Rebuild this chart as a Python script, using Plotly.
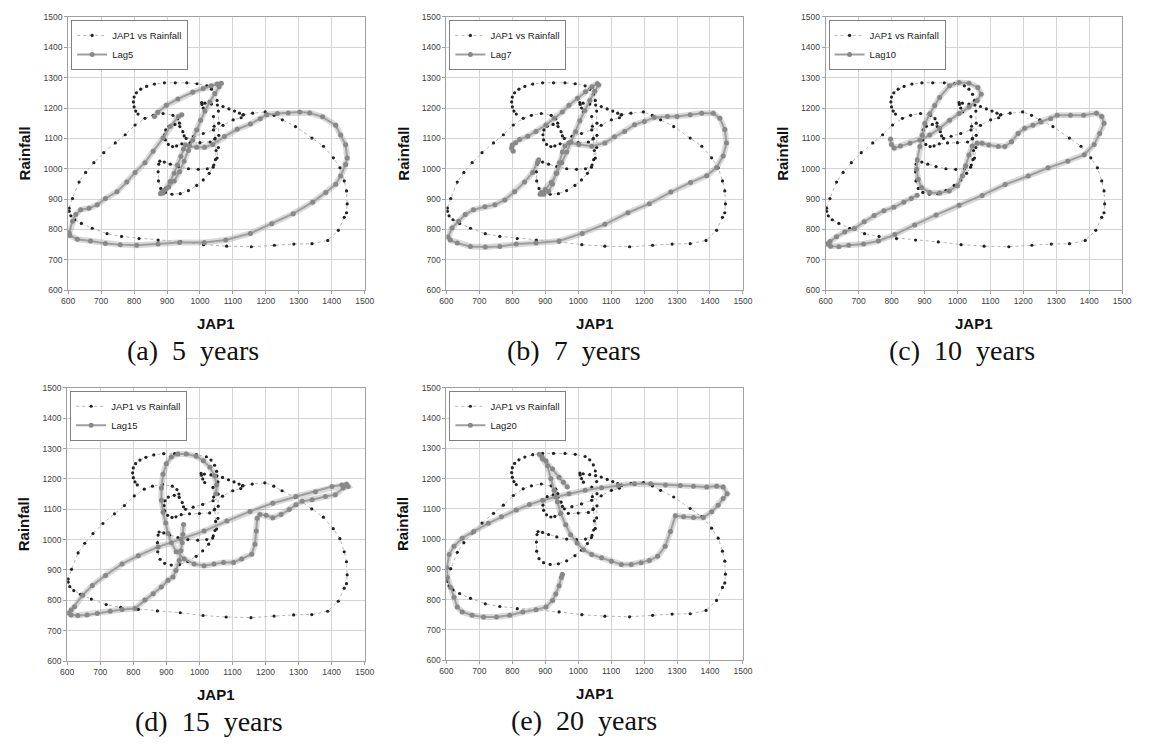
import plotly.graph_objects as go

# ---------------- data ----------------
# JAP1 vs Rainfall (pieces separated by None)
jap_x = [1016, 1010, 1006, 1005, 1015, 1035, 1053, 1070, 1088, 1105, 1120, 1130, 1160, 1198, 1225, 1250, 1290, 1340,
         1375, 1405, 1425, 1438, 1445, 1447, 1445, 1438, 1420, 1388, 1340, 1285, 1226, 1156, 1081, 1011, 942, 873,
         815, 762, 718, 673, 640, 620, 608, 603, 603, 613, 633, 653, 678, 708, 743, 773, 803, 833, 858, 888, 918,
         932, 938,
         None,
         1132, 1125, 1101, 1070, 1041, 1010, 981, 958,
         None,
         1041, 1043, 1046, 1049, 1047, 1040, 1028, 1010, 990, 965, 940, 915, 895, 881, 874, 873, 875, 878, 892, 910,
         935, 965, 995, 1022, 1042, 1052, 1056, 1057, 1057, 1056, 1052, 1046, 1035, 1021, 991, 960, 925, 892, 862,
         838, 820, 807, 800, 798, 800, 805, 812,
         None,
         1045, 1031, 1000, 970, 945, 929, 917, 904, 895, 893, 896, 906, 924, 939, 948, 952]
jap_y = [1188, 1200, 1212, 1218, 1216, 1213, 1210, 1205, 1197, 1190, 1183, 1177, 1183, 1187, 1176, 1161, 1139, 1101,
         1074, 1036, 1003, 960, 927, 884, 855, 840, 797, 764, 753, 752, 748, 743, 745, 750, 759, 765,
         770, 777, 786, 804, 820, 832, 845, 860, 870, 902, 956, 988, 1020, 1053, 1085, 1112, 1144, 1166, 1176, 1182,
         1176, 1165, 1150,
         None,
         1178, 1168, 1161, 1143, 1128, 1116, 1107, 1100,
         None,
         1172, 1140, 1100, 1060, 1030, 1005, 985, 963, 945, 928, 918, 916, 922, 935, 960, 990, 1015, 1025, 1022, 1015,
         1007, 1000, 998, 1000, 1012, 1035, 1070, 1110, 1150, 1190, 1225, 1245, 1262, 1273, 1280, 1283, 1283, 1283,
         1279, 1271, 1262, 1250, 1236, 1220, 1204, 1190, 1180,
         None,
         1098, 1088, 1086, 1085, 1082, 1075, 1073, 1080, 1095, 1112, 1128, 1140, 1146, 1139, 1122, 1108]

lag5_x = [862, 872, 898, 933, 978, 1010, 1034, 1052, 1065, 1058, 1045, 1030, 1015, 1002, 990, 978, 965, 952, 938, 922,
          905, 890, 883, 880, 888, 898, 910, 922, 932, 942, 950, 956, 968, 990, 1014, 1039, 1074, 1113, 1153, 1183,
          1203, 1235, 1268, 1303, 1333, 1372, 1412, 1427, 1442, 1447, 1442, 1427, 1412, 1382, 1342, 1283, 1218, 1153,
          1078, 1013, 938, 873, 808, 758, 713, 668, 628, 605, 603, 613, 623, 638, 663, 688, 713, 748, 778, 803, 833,
          858, 888, 910, 935, 945]
lag5_y = [1172, 1186, 1209, 1230, 1252, 1264, 1273, 1279, 1282, 1270, 1248, 1220, 1190, 1160, 1128, 1095, 1060, 1025,
          990, 960, 940, 928, 922, 918, 920, 935, 958, 985, 1012, 1040, 1065, 1078, 1075, 1071, 1071, 1080, 1106, 1130,
          1147, 1165, 1178, 1182, 1184, 1187, 1184, 1171, 1143, 1111, 1079, 1035, 1014, 976, 949, 922, 890, 852, 819,
          787, 765, 757, 757, 752, 748, 750, 754, 762, 768, 780, 789, 827, 849, 865, 870, 881, 902, 924, 956, 988,
          1020, 1058, 1101, 1140, 1172, 1178]

lag7_x = [803, 798, 800, 810, 822, 847, 872, 902, 927, 952, 972, 998, 1022, 1042, 1058, 1062, 1050, 1035, 1020, 1005,
          992, 978, 965, 950, 935, 918, 900, 888, 884, 895, 910, 922, 933, 943, 952, 960, 972, 1002, 1041, 1081, 1110,
          1141, 1171, 1201, 1231, 1271, 1300, 1340, 1375, 1410, 1430, 1445, 1450, 1440, 1420, 1390, 1341, 1281, 1216,
          1151, 1081, 1012, 942, 872, 812, 762, 718, 673, 633, 612, 605, 617, 637, 657, 682, 717, 747, 777, 807, 837,
          862, 877, 880]
lag7_y = [1058, 1068, 1078, 1086, 1096, 1107, 1123, 1144, 1166, 1187, 1209, 1232, 1254, 1270, 1280, 1276, 1255, 1225,
          1192, 1158, 1122, 1088, 1055, 1020, 985, 955, 932, 922, 916, 916, 925, 950, 985, 1020, 1055, 1075, 1085,
          1080, 1074, 1085, 1105, 1123, 1145, 1156, 1169, 1172, 1172, 1178, 1183, 1183, 1166, 1129, 1085, 1042, 1004,
          977, 955, 923, 885, 855, 817, 787, 762, 755, 752, 744, 742, 744, 755, 765, 775, 805, 827, 849, 865, 875, 881,
          897, 924, 956, 988, 1021, 1030]

lag10_x = [797, 800, 808, 827, 856, 886, 916, 946, 976, 1005, 1035, 1060, 1072, 1062, 1035, 1005, 976, 946, 931, 916,
           901, 893, 886, 878, 876, 881, 891, 916, 946, 975, 1000, 1015, 1025, 1035, 1045, 1060, 1075, 1095, 1124,
           1144, 1164, 1184, 1204, 1229, 1254, 1283, 1303, 1343, 1383, 1422, 1438, 1445, 1432, 1415, 1385, 1335, 1275,
           1215, 1145, 1075, 1005, 935, 870, 810, 760, 715, 670, 640, 615, 605, 613, 633, 658, 687, 717, 747, 777,
           807, 837, 860, 878]
lag10_y = [1098, 1080, 1068, 1075, 1084, 1095, 1111, 1133, 1160, 1182, 1203, 1225, 1245, 1268, 1282, 1284, 1273, 1235,
           1208, 1181, 1149, 1110, 1073, 1030, 998, 965, 938, 922, 920, 927, 944, 976, 1010, 1045, 1075, 1084, 1084,
           1078, 1073, 1073, 1089, 1116, 1133, 1143, 1154, 1165, 1176, 1176, 1176, 1183, 1172, 1150, 1116, 1080, 1046,
           1025, 1003, 976, 948, 912, 880, 848, 815, 783, 762, 752, 748, 743, 745, 752, 760, 776, 792, 803, 825, 846,
           862, 873, 890, 902, 913]

lag15_x = [952, 950, 948, 944, 939, 929, 920, 905, 885, 860, 835, 805, 766, 730, 691, 660, 632, 612, 605, 612, 622,
           647, 676, 716, 766, 815, 875, 944, 1014, 1083, 1153, 1222, 1292, 1351, 1401, 1431, 1445, 1450, 1435, 1411,
           1381, 1341, 1311, 1292, 1272, 1247, 1222, 1202, 1183, 1175, 1172, 1168, 1158, 1128, 1103, 1073, 1044, 1014,
           984, 954, 930, 915, 905, 898, 890, 885, 885, 890, 900, 915, 935, 960, 990, 1012, 1032, 1046, 1052, 1050]
lag15_y = [1050, 1017, 990, 963, 931, 898, 877, 866, 844, 822, 801, 773, 770, 764, 757, 752, 750, 752, 758, 768, 779,
           817, 849, 882, 920, 947, 976, 1001, 1028, 1061, 1093, 1120, 1142, 1158, 1175, 1180, 1182, 1175, 1170, 1148,
           1142, 1131, 1126, 1115, 1099, 1083, 1072, 1080, 1083, 1070, 1028, 985, 952, 936, 925, 925, 920, 914, 920,
           936, 960, 990, 1020, 1055, 1090, 1130, 1170, 1215, 1250, 1272, 1282, 1282, 1275, 1260, 1238, 1210, 1180,
           1150]

lag20_x = [967, 955, 942, 922, 902, 890, 882, 892, 907, 917, 927, 937, 947, 962, 977, 997, 1016, 1041, 1071, 1101,
           1131, 1161, 1191, 1216, 1241, 1264, 1280, 1295, 1320, 1350, 1380, 1405, 1425, 1440, 1452, 1440, 1420, 1390,
           1350, 1310, 1265, 1220, 1171, 1121, 1071, 1021, 972, 932, 892, 852, 812, 767, 727, 683, 648, 623, 608, 601,
           603, 613, 623, 633, 648, 678, 713, 752, 792, 832, 872, 902, 922, 932, 942, 949, 952]
lag20_y = [1172, 1188, 1204, 1232, 1259, 1272, 1280, 1265, 1242, 1199, 1161, 1123, 1085, 1047, 1014, 987, 965, 949,
           938, 927, 916, 916, 922, 929, 943, 976, 1025, 1077, 1074, 1071, 1071, 1090, 1112, 1134, 1150, 1172, 1175,
           1172, 1175, 1177, 1179, 1183, 1183, 1177, 1170, 1161, 1150, 1139, 1128, 1114, 1096, 1074, 1052, 1025,
           1003, 976, 949, 905, 873, 840, 808, 775, 759, 748, 742, 742, 748, 759, 766, 775, 797, 818, 846, 873, 884]

lag_names = ["Lag5", "Lag7", "Lag10", "Lag15", "Lag20"]
lag_xs = [lag5_x, lag7_x, lag10_x, lag15_x, lag20_x]
lag_ys = [lag5_y, lag7_y, lag10_y, lag15_y, lag20_y]
captions = ["(a)\u00a0\u00a05\u00a0\u00a0years", "(b)\u00a0\u00a07\u00a0\u00a0years",
            "(c)\u00a0\u00a010\u00a0\u00a0years", "(d)\u00a0\u00a015\u00a0\u00a0years",
            "(e)\u00a0\u00a020\u00a0\u00a0years"]
caption_left = [120, 505, 893, 128, 510]
tick_vals = [600, 700, 800, 900, 1000, 1100, 1200, 1300, 1400, 1500]

# ---------------- layout geometry (screen pixels) ----------------
OFF = 8                      # default page body margin
W, H = 1149 - 2 * OFF, 749 - 2 * OFF
# (left, right, top, bottom) of each plot area in screen px
boxes = [(62, 363, 12, 289), (446, 747, 12, 289), (831, 1132, 12, 289),
         (61, 363, 388, 665), (446, 747, 388, 664)]


def px(v):
    return (v - OFF) / W


def py(v):
    return 1 - (v - OFF) / H


fig = go.Figure()
layout = dict(width=W, height=H, margin=dict(l=0, r=0, t=0, b=0),
              paper_bgcolor="white", plot_bgcolor="white", showlegend=True,
              font=dict(family="Liberation Sans", color="#222"))
annotations = []

for i, (l, r, t, b) in enumerate(boxes):
    n = "" if i == 0 else str(i + 1)
    ax = dict(domain=[px(l), px(r)], range=[600, 1500], tickvals=tick_vals, showgrid=True, gridcolor="#d4d4d4",
              gridwidth=1, showline=True, linecolor="#a0a0a0", linewidth=1, mirror=True,
              ticks="outside", ticklen=3, tickcolor="#a0a0a0",
              tickfont=dict(size=8.5, color="#404040", family="Liberation Sans"),
              zeroline=False, fixedrange=True)
    layout["xaxis" + n] = dict(ax, anchor="y" + n)
    layout["yaxis" + n] = dict(ax, domain=[py(b), py(t)], anchor="x" + n)
    leg = "legend" + n
    layout[leg] = dict(x=px(l + 3), y=py(t + 3), xanchor="left", yanchor="top",
                       bgcolor="white", bordercolor="#808080", borderwidth=1,
                       font=dict(size=9.5, family="Liberation Sans", color="#222"),
                       itemwidth=30, tracegroupgap=0)
    # soft shadow under the lag line
    fig.add_trace(go.Scatter(x=lag_xs[i], y=lag_ys[i], mode="lines",
                             line=dict(color="rgba(150,150,150,0.35)", width=6),
                             showlegend=False, hoverinfo="skip",
                             xaxis="x" + n, yaxis="y" + n))
    fig.add_trace(go.Scatter(x=jap_x, y=jap_y, mode="lines+markers", name="JAP1 vs Rainfall",
                             line=dict(color="#b4b4b4", width=1, dash="dot"),
                             marker=dict(size=3.2, color="#222222"),
                             connectgaps=False, legend=leg,
                             xaxis="x" + n, yaxis="y" + n))
    fig.add_trace(go.Scatter(x=lag_xs[i], y=lag_ys[i], mode="lines+markers", name=lag_names[i],
                             line=dict(color="#9e9e9e", width=2),
                             marker=dict(size=5, color="#888888"),
                             legend=leg, xaxis="x" + n, yaxis="y" + n))
    cx = (l + r) / 2
    annotations.append(dict(text="<b>JAP1</b>", x=px(cx), y=py(b + 34), xref="paper", yref="paper",
                            showarrow=False, font=dict(size=15, family="Liberation Sans", color="#111"),
                            xanchor="center", yanchor="middle"))
    annotations.append(dict(text="<b>Rainfall</b>", x=px(l - 44), y=py((t + b) / 2), xref="paper",
                            yref="paper", showarrow=False, textangle=-90,
                            font=dict(size=15, family="Liberation Sans", color="#111"),
                            xanchor="center", yanchor="middle"))
    annotations.append(dict(text=captions[i], x=px(caption_left[i]), y=py(b + 61), xref="paper", yref="paper",
                            showarrow=False, font=dict(size=28, family="Liberation Serif", color="#111"),
                            xanchor="left", yanchor="middle"))

layout["annotations"] = annotations
fig.update_layout(**layout)
fig.write_html("out.html")
